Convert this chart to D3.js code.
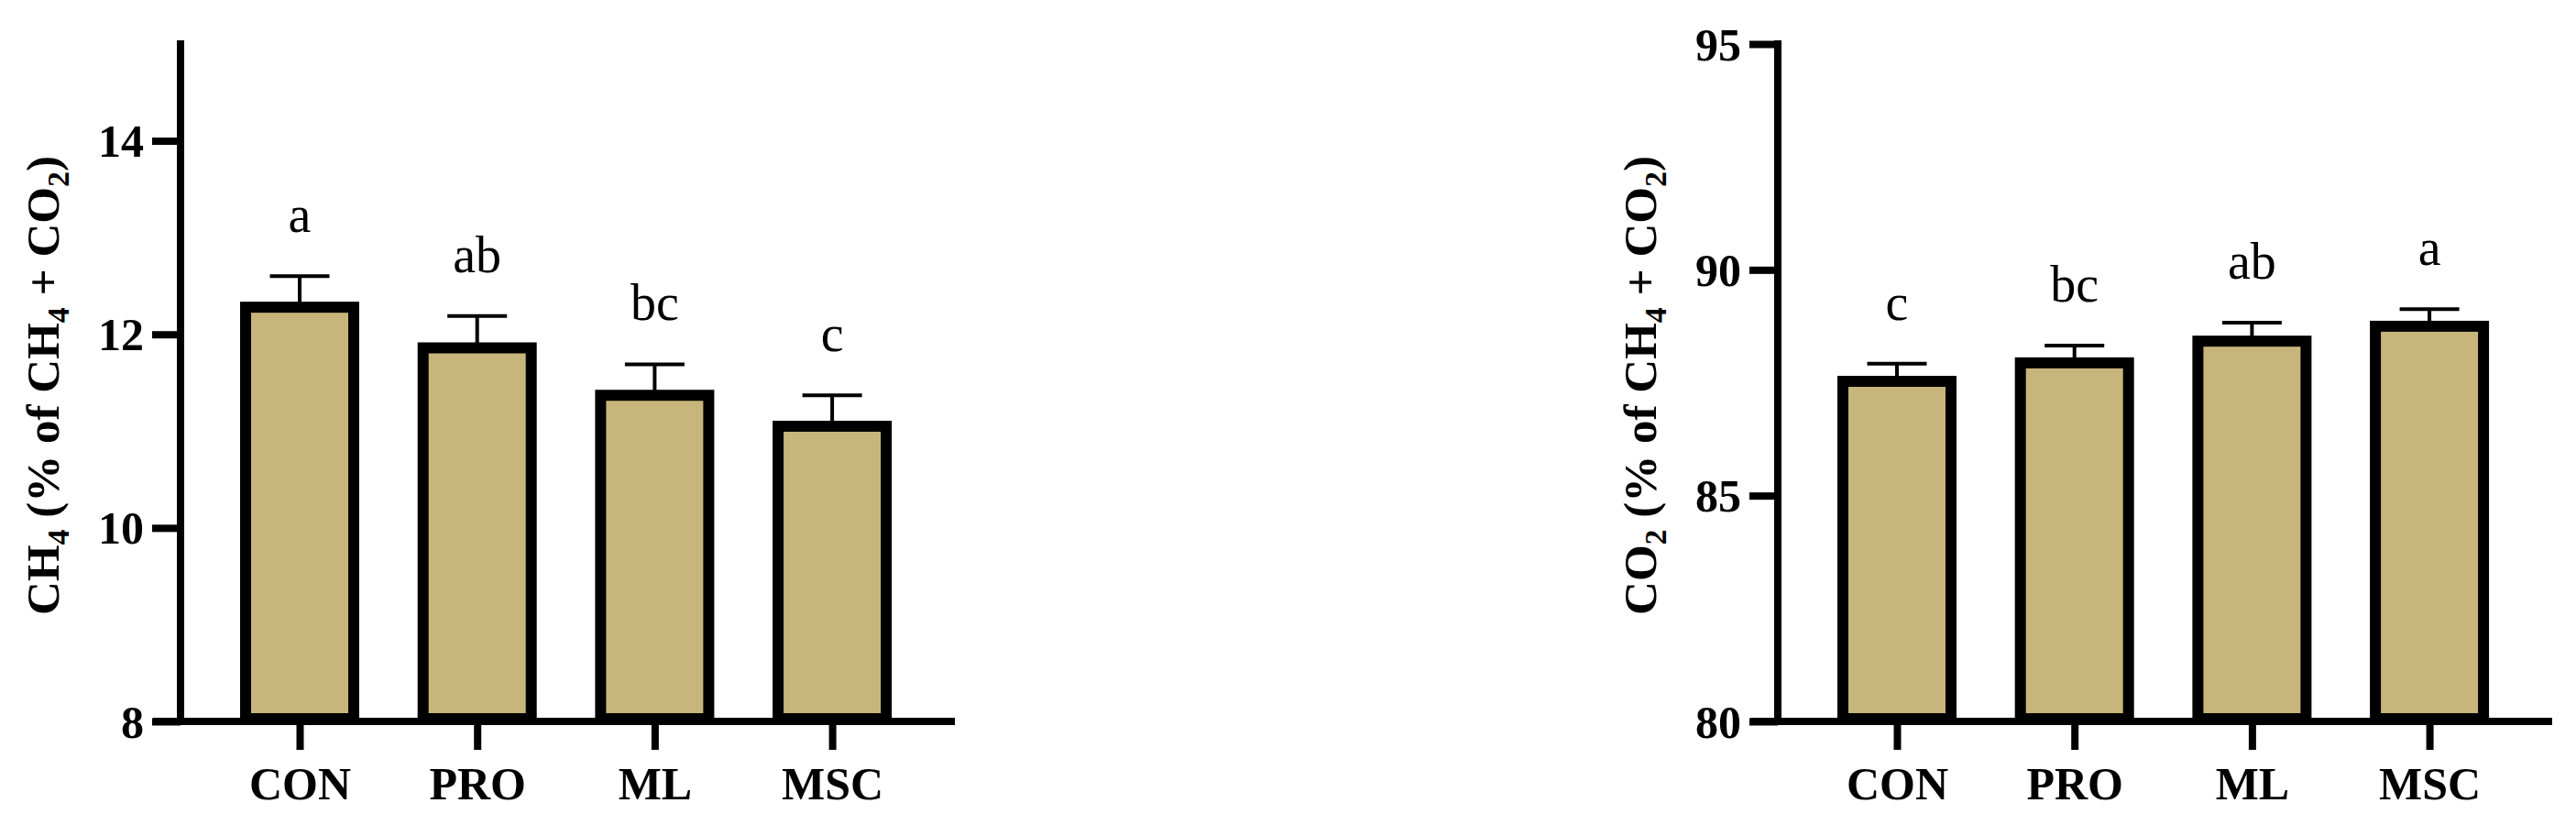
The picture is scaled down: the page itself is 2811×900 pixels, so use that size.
<!DOCTYPE html>
<html>
<head>
<meta charset="utf-8">
<script src="https://cdn.jsdelivr.net/npm/d3@7/dist/d3.min.js"></script>
<style>
  html, body { margin: 0; padding: 0; background: #ffffff; }
  svg { display: block; }
</style>
</head>
<body>
<svg id="chart" width="2811" height="900"></svg>
<script>
// ---- data ----
const categories = ["CON", "PRO", "ML", "MSC"];

const ch4Means   = [12.28, 11.86, 11.37, 11.05];
const ch4Sem     = [0.32, 0.33, 0.32, 0.32];
const ch4Letters = ["a", "ab", "bc", "c"];
const ch4Ticks   = [8, 10, 12, 14];
const ch4Domain  = [8, 15];

const co2Means   = [87.53, 87.94, 88.42, 88.75];
const co2Sem     = [0.39, 0.38, 0.41, 0.38];
const co2Letters = ["c", "bc", "ab", "a"];
const co2Ticks   = [80, 85, 90, 95];
const co2Domain  = [80, 95];

// ---- layout / style ----
const svg = d3.select("#chart");
const TOP = 48, BOTTOM = 787;
const BAR_FILL = "#C7B57B";
const SERIF = "'Liberation Serif', 'Times New Roman', Times, serif";

function drawPanel(opts) {
  const { axisX, means, sem, letters, ticks, domain, gas, other } = opts;
  const g = svg.append("g");

  const y = d3.scaleLinear().domain(domain).range([BOTTOM, TOP]);
  const x = d3.scalePoint().domain(categories)
    .range([axisX + 130, axisX + 130 + 3 * 193.7]);
  const barW = 118;

  const rows = categories.map((c, i) => ({ c, m: means[i], s: sem[i], l: letters[i] }));

  // error bars (drawn first, under bar border)
  const eb = g.append("g").attr("stroke", "#000").attr("stroke-width", 4);
  eb.selectAll("line.v").data(rows).join("line").attr("class", "v")
    .attr("x1", d => x(d.c)).attr("x2", d => x(d.c))
    .attr("y1", d => y(d.m)).attr("y2", d => y(d.m + d.s));
  eb.selectAll("line.cap").data(rows).join("line").attr("class", "cap")
    .attr("x1", d => x(d.c) - 32.5).attr("x2", d => x(d.c) + 32.5)
    .attr("y1", d => y(d.m + d.s)).attr("y2", d => y(d.m + d.s));

  // bars
  g.append("g").selectAll("rect").data(rows).join("rect")
    .attr("x", d => x(d.c) - barW / 2)
    .attr("width", barW)
    .attr("y", d => y(d.m))
    .attr("height", d => y(domain[0]) - y(d.m) - 3)
    .attr("fill", BAR_FILL)
    .attr("stroke", "#000")
    .attr("stroke-width", 12);

  // significance letters
  g.append("g").selectAll("text").data(rows).join("text")
    .attr("x", d => x(d.c))
    .attr("y", d => y(d.m + d.s) - 48)
    .attr("text-anchor", "middle")
    .attr("font-family", SERIF)
    .attr("font-size", 56)
    .attr("fill", "#000")
    .text(d => d.l);

  // y axis
  const yAxis = g.append("g").attr("transform", `translate(${axisX},0)`)
    .call(d3.axisLeft(y).tickValues(ticks).tickSize(31).tickPadding(9)
      .tickFormat(d3.format("d")));
  yAxis.select(".domain").remove();
  yAxis.selectAll(".tick line").attr("stroke", "#000").attr("stroke-width", 8);
  yAxis.selectAll(".tick text")
    .attr("font-family", SERIF).attr("font-weight", "bold")
    .attr("font-size", 50).attr("fill", "#000").attr("dy", "0.34em");

  // x axis
  const xAxis = g.append("g").attr("transform", `translate(0,${BOTTOM})`)
    .call(d3.axisBottom(x).tickSize(31).tickSizeOuter(0));
  xAxis.select(".domain").remove();
  xAxis.selectAll(".tick line").attr("stroke", "#000").attr("stroke-width", 8);
  xAxis.selectAll(".tick text")
    .attr("font-family", SERIF).attr("font-weight", "bold")
    .attr("font-size", 50).attr("fill", "#000")
    .attr("y", 85).attr("dy", 0);

  // axis lines
  g.append("line")
    .attr("x1", axisX).attr("x2", axisX)
    .attr("y1", TOP - 4).attr("y2", BOTTOM + 4)
    .attr("stroke", "#000").attr("stroke-width", 8);
  g.append("line")
    .attr("x1", axisX - 30).attr("x2", axisX + 845)
    .attr("y1", BOTTOM).attr("y2", BOTTOM)
    .attr("stroke", "#000").attr("stroke-width", 8);

  // y axis title with subscripts
  const t = g.append("text")
    .attr("transform", `translate(${axisX - 133},${(TOP + BOTTOM) / 2 + 3}) rotate(-90)`)
    .attr("text-anchor", "middle")
    .attr("font-family", SERIF).attr("font-weight", "bold")
    .attr("font-size", 51).attr("fill", "#000");
  const sub = (txt) => { t.append("tspan").attr("dy", 11).attr("font-size", 34).text(txt); };
  const norm = (txt) => { t.append("tspan").attr("dy", -11).text(txt); };
  t.append("tspan").text(gas[0]);
  sub(gas[1]);
  norm(" (% of CH");
  sub("4");
  norm(" + CO");
  sub("2");
  norm(")");
}

drawPanel({ axisX: 197, means: ch4Means, sem: ch4Sem, letters: ch4Letters,
            ticks: ch4Ticks, domain: ch4Domain, gas: ["CH", "4"] });
drawPanel({ axisX: 1940, means: co2Means, sem: co2Sem, letters: co2Letters,
            ticks: co2Ticks, domain: co2Domain, gas: ["CO", "2"] });
</script>
</body>
</html>
